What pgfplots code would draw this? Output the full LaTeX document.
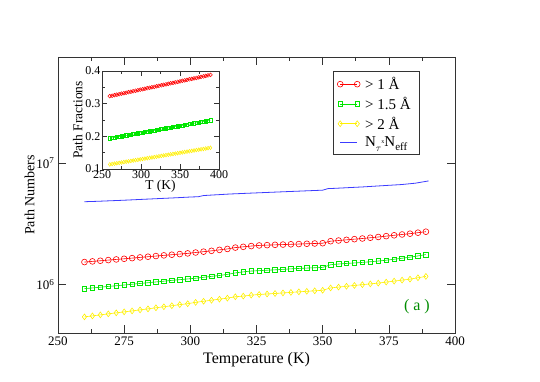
\documentclass[border=0pt]{standalone}
\usepackage{pgfplots}
\pgfplotsset{compat=1.18}
\usepackage{fontspec}
\setmainfont{Liberation Serif}
\definecolor{gbright}{RGB}{0,230,0}
\definecolor{ylw}{RGB}{255,240,0}
\definecolor{blu}{RGB}{60,60,255}
\definecolor{lbl}{RGB}{0,140,0}
\begin{document}
\begin{tikzpicture}
\useasboundingbox (-58pt,-49pt) rectangle (482pt,333pt);
\begin{axis}[
  at={(0pt,0pt)}, anchor=south west,
  scale only axis, width=397pt, height=276pt,
  xmin=250, xmax=400, ymode=log, log basis y=10, ymin=4e5, ymax=7.5e7,
  xtick={250,275,...,400}, minor x tick num=1,
  ytick={1e6,1e7},
  yticklabel={\pgfmathtruncatemacro\e{round(\tick)}10\textsuperscript{\e}},
  tick align=inside, xtick pos=both, ytick pos=both,
  major tick length=8pt, minor tick length=4pt,
  /pgf/number format/assume math mode=true,
  tick label style={font=\fontsize{13}{15}\selectfont},
  xlabel style={font=\fontsize{16}{18}\selectfont},
  ylabel style={font=\fontsize{14}{16}\selectfont, yshift=-5pt},
  xlabel={Temperature (K)}, ylabel={Path Numbers},
  axis line style={black!80, line width=0.8pt},
  every tick/.style={black!80, line width=0.6pt},
  legend style={at={(0.693,0.949)}, anchor=north west, draw=black!80, fill=white,
    font=\fontsize{15}{17}\selectfont, row sep=2pt, inner sep=4pt,
    nodes={inner xsep=5pt}},
  legend cell align=left,
  legend image code/.code={\draw[mark repeat=1,mark phase=1,#1] plot coordinates {(0pt,0pt) (17pt,0pt)};},
]
\addplot[red, line width=0.6pt, mark=o, mark size=2.9pt, mark options={red, line width=0.6pt}] coordinates {
(260,1.535e6)(263,1.555e6)(266,1.574e6)(269,1.594e6)(272,1.614e6)(275,1.634e6)(278,1.655e6)(281,1.677e6)(284,1.699e6)(287,1.721e6)(290,1.743e6)(293,1.765e6)(296,1.787e6)(299,1.810e6)(302,1.840e6)(305,1.870e6)(308,1.900e6)(311,1.935e6)(314,1.970e6)(317,2.020e6)(320,2.050e6)(323,2.080e6)(326,2.104e6)(329,2.117e6)(332,2.128e6)(335,2.139e6)(338,2.150e6)(341,2.161e6)(344,2.172e6)(347,2.183e6)(350,2.195e6)(353,2.280e6)(356,2.310e6)(359,2.340e6)(362,2.370e6)(365,2.400e6)(368,2.435e6)(371,2.470e6)(374,2.510e6)(377,2.550e6)(380,2.590e6)(383,2.630e6)(386,2.680e6)(389,2.730e6)};
\addlegendentry{> 1 Å}
\addplot[gbright, line width=0.6pt, mark=square, mark size=2.3pt, mark options={gbright, line width=0.6pt}] coordinates {
(260,0.927e6)(263,0.940e6)(266,0.953e6)(269,0.967e6)(272,0.980e6)(275,0.994e6)(278,1.008e6)(281,1.023e6)(284,1.038e6)(287,1.053e6)(290,1.068e6)(293,1.085e6)(296,1.100e6)(299,1.115e6)(302,1.130e6)(305,1.150e6)(308,1.170e6)(311,1.190e6)(314,1.215e6)(317,1.250e6)(320,1.275e6)(323,1.295e6)(326,1.305e6)(329,1.315e6)(332,1.325e6)(335,1.337e6)(338,1.350e6)(341,1.360e6)(344,1.370e6)(347,1.378e6)(350,1.387e6)(353,1.460e6)(356,1.480e6)(359,1.495e6)(362,1.510e6)(365,1.525e6)(368,1.545e6)(371,1.565e6)(374,1.590e6)(377,1.620e6)(380,1.650e6)(383,1.685e6)(386,1.725e6)(389,1.770e6)};
\addlegendentry{> 1.5 Å}
\addplot[ylw, line width=0.6pt, mark=diamond, mark size=2.9pt, mark options={ylw, line width=0.6pt}] coordinates {
(260,0.543e6)(263,0.553e6)(266,0.564e6)(269,0.575e6)(272,0.586e6)(275,0.597e6)(278,0.608e6)(281,0.620e6)(284,0.632e6)(287,0.645e6)(290,0.658e6)(293,0.671e6)(296,0.685e6)(299,0.697e6)(302,0.715e6)(305,0.730e6)(308,0.745e6)(311,0.760e6)(314,0.775e6)(317,0.795e6)(320,0.805e6)(323,0.820e6)(326,0.830e6)(329,0.838e6)(332,0.846e6)(335,0.855e6)(338,0.864e6)(341,0.873e6)(344,0.882e6)(347,0.890e6)(350,0.899e6)(353,0.940e6)(356,0.955e6)(359,0.970e6)(362,0.985e6)(365,1.000e6)(368,1.015e6)(371,1.030e6)(374,1.050e6)(377,1.070e6)(380,1.090e6)(383,1.110e6)(386,1.140e6)(389,1.170e6)};
\addlegendentry{> 2 Å}
\addplot[blu, line width=0.8pt, mark=none] coordinates {
(260,4.82e6)(265,4.86e6)(270,4.91e6)(275,4.96e6)(280,5.02e6)(285,5.08e6)(290,5.14e6)(295,5.20e6)(300,5.27e6)(303,5.30e6)(305,5.42e6)(310,5.50e6)(315,5.58e6)(320,5.64e6)(325,5.70e6)(330,5.76e6)(335,5.82e6)(340,5.88e6)(345,5.94e6)(350,6.00e6)(352,6.18e6)(355,6.22e6)(360,6.30e6)(365,6.38e6)(370,6.48e6)(375,6.58e6)(380,6.68e6)(385,6.85e6)(390,7.15e6)};
\addlegendentry{N\raisebox{-0.7ex}{\fontsize{10}{11}\selectfont$\tau$}\raisebox{0.4ex}{\fontsize{6}{7}\selectfont x}N\raisebox{-0.6ex}{\fontsize{11}{12}\selectfont eff}}
\node[text=lbl, font=\fontsize{16}{18}\selectfont] at (rel axis cs:0.904,0.094) {( a )};
\end{axis}
\begin{axis}[
  at={(44pt,164pt)}, anchor=south west,
  scale only axis, width=117pt, height=98pt,
  xmin=250, xmax=400, ymin=0.1, ymax=0.4,
  xtick={250,300,...,400}, minor x tick num=1,
  ytick={0.1,0.2,0.3,0.4}, minor y tick num=1,
  yticklabel style={/pgf/number format/fixed, /pgf/number format/fixed zerofill, /pgf/number format/precision=1, xshift=2pt},
  tick align=inside, xtick pos=both, ytick pos=both,
  major tick length=5pt, minor tick length=3pt,
  /pgf/number format/assume math mode=true,
  tick label style={font=\fontsize{12}{14}\selectfont},
  label style={font=\fontsize{13.5}{15}\selectfont},
  xlabel={T (K)}, ylabel={Path Fractions},
  xlabel style={yshift=5pt}, ylabel style={yshift=-4pt},
  xticklabel style={yshift=2pt},
  axis background/.style={fill=white},
  axis line style={black!80, line width=0.8pt},
  every tick/.style={black!80, line width=0.5pt},
]
\addplot[red, line width=0.5pt, mark=o, mark size=1.9pt, mark options={line width=0.5pt}] coordinates {
(260,.323)(263,.3245)(266,.326)(269,.3275)(272,.329)(275,.3306)(278,.3321)(281,.3336)(284,.3351)(287,.3366)(290,.3381)(293,.3396)(296,.3411)(299,.3427)(302,.3442)(305,.3457)(308,.3472)(311,.3487)(314,.3502)(317,.3517)(320,.3532)(323,.3547)(326,.3563)(329,.3578)(332,.3593)(335,.3608)(338,.3623)(341,.3638)(344,.3653)(347,.3668)(350,.3683)(353,.3699)(356,.3714)(359,.3729)(362,.3744)(365,.3759)(368,.3774)(371,.3789)(374,.3804)(377,.3820)(380,.3835)(383,.3850)(386,.3865)(389,.388)};
\addplot[gbright, line width=0.5pt, mark=square, mark size=1.6pt, mark options={line width=0.5pt}] coordinates {
(260,.194)(263,.1953)(266,.1966)(269,.1978)(272,.1991)(275,.2004)(278,.2017)(281,.2030)(284,.2042)(287,.2055)(290,.2068)(293,.2081)(296,.2093)(299,.2106)(302,.2119)(305,.2132)(308,.2145)(311,.2157)(314,.2170)(317,.2183)(320,.2196)(323,.2209)(326,.2221)(329,.2234)(332,.2247)(335,.2260)(338,.2273)(341,.2285)(344,.2298)(347,.2311)(350,.2324)(353,.2336)(356,.2349)(359,.2362)(362,.2375)(365,.2388)(368,.2400)(371,.2413)(374,.2426)(377,.2439)(380,.2452)(383,.2464)(386,.2477)(389,.249)};
\addplot[ylw, line width=0.5pt, mark=diamond, mark size=1.9pt, mark options={line width=0.5pt}] coordinates {
(260,.114)(263,.1152)(266,.1164)(269,.1176)(272,.1187)(275,.1199)(278,.1211)(281,.1223)(284,.1235)(287,.1247)(290,.1259)(293,.1270)(296,.1282)(299,.1294)(302,.1306)(305,.1318)(308,.1330)(311,.1342)(314,.1353)(317,.1365)(320,.1377)(323,.1389)(326,.1401)(329,.1413)(332,.1425)(335,.1437)(338,.1448)(341,.1460)(344,.1472)(347,.1484)(350,.1496)(353,.1508)(356,.1520)(359,.1531)(362,.1543)(365,.1555)(368,.1567)(371,.1579)(374,.1591)(377,.1603)(380,.1614)(383,.1626)(386,.1638)(389,.165)};
\end{axis}
\end{tikzpicture}
\end{document}
